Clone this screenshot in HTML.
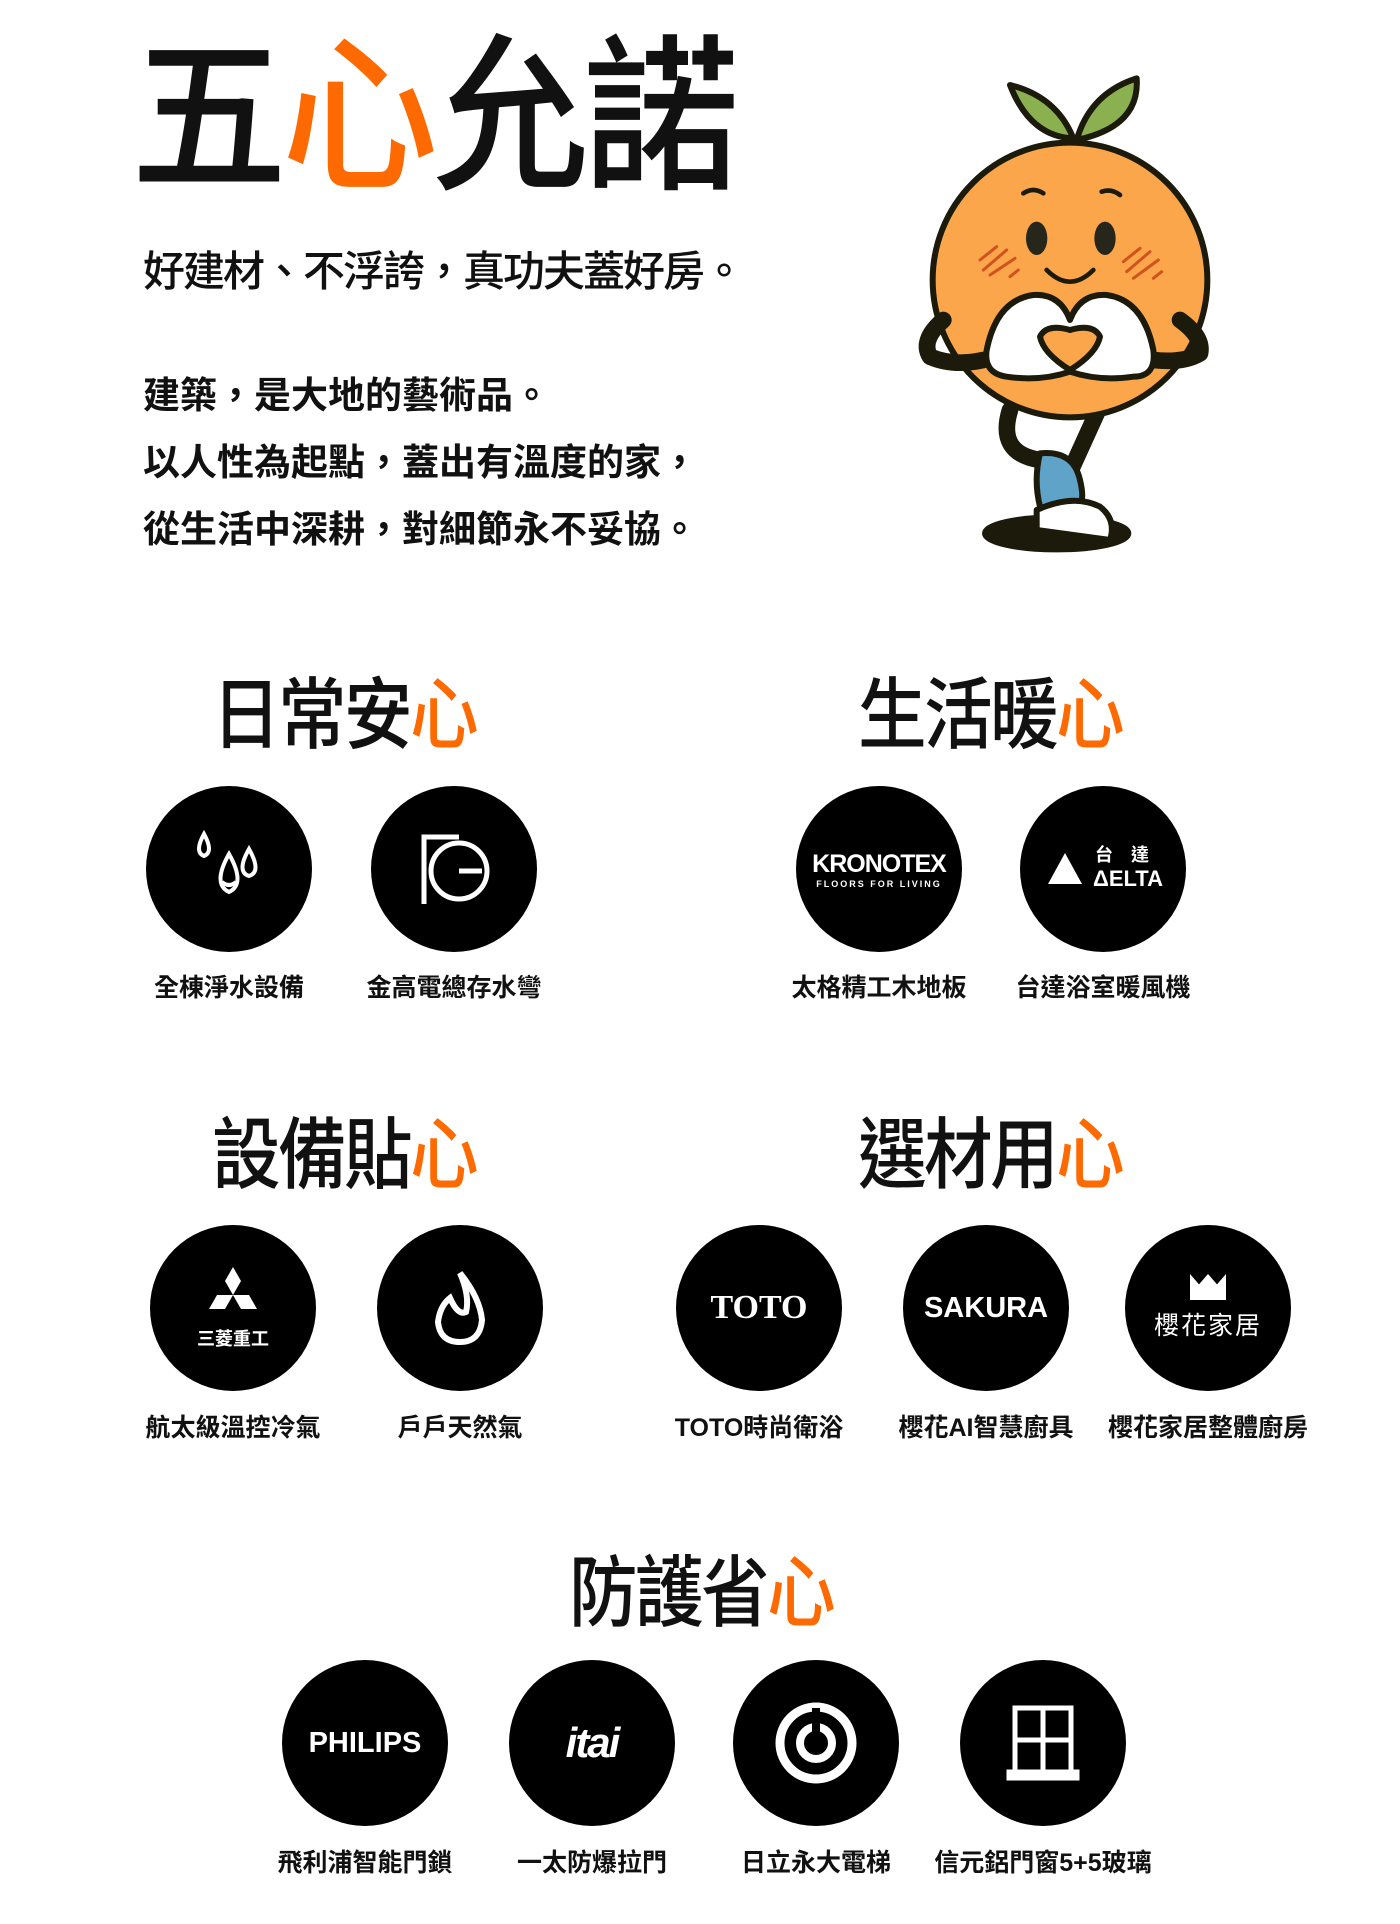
<!DOCTYPE html>
<html><head><meta charset="utf-8">
<style>
html,body{margin:0;padding:0;background:#fff;}
body{width:1400px;height:1924px;position:relative;overflow:hidden;font-family:"Liberation Sans","Noto Sans CJK TC",sans-serif;color:#111;}
.a{position:absolute;white-space:nowrap;}
.o{color:#ff6a00;}
.title{font-size:168px;font-weight:500;letter-spacing:-6px;line-height:1;transform:scaleX(0.93);transform-origin:0 0;}
.sec{font-size:78px;font-weight:500;letter-spacing:-3px;line-height:1;width:400px;text-align:center;transform:scaleX(0.88);}
.c{position:absolute;width:166px;height:166px;border-radius:50%;background:#000;color:#fff;display:flex;align-items:center;justify-content:center;}
.lb{position:absolute;width:240px;text-align:center;font-size:25px;font-weight:700;line-height:1;}
</style></head><body>

<div class="a title" style="left:131px;top:34px;">五<span class="o">心</span>允諾</div>
<div class="a" style="left:143px;top:238px;font-size:42px;font-weight:500;letter-spacing:-2px;">好建材、不浮誇，真功夫蓋好房。</div>
<div class="a" style="left:143px;top:362px;font-size:37px;font-weight:700;line-height:67px;letter-spacing:0px;">建築，是大地的藝術品。<br>以人性為起點，蓋出有溫度的家，<br>從生活中深耕，對細節永不妥協。</div>

<svg class="a" style="left:900px;top:60px;" width="340" height="510" viewBox="0 0 1020 1530">
<g stroke="#1c1a0a" stroke-width="18" stroke-linecap="round" stroke-linejoin="round">
<ellipse cx="470" cy="1420" rx="215" ry="48" fill="#1c1a0a"/>
<path d="M330 75 Q470 110 520 235 Q390 230 330 75Z" fill="#8ab04f"/>
<path d="M710 55 Q720 200 530 240 Q570 100 710 55Z" fill="#8ab04f"/>
<path d="M330 1050 Q290 1180 420 1200" fill="none" stroke-width="50"/>
<path d="M590 1060 L490 1280" fill="none" stroke-width="50"/>
<path d="M420 1180 Q520 1170 540 1260 Q560 1340 520 1360 L420 1340 Q400 1260 420 1180Z" fill="#5fa3c9"/>
<path d="M410 1350 Q520 1300 600 1340 Q650 1380 630 1440 L410 1410Z" fill="#fff"/>
<circle cx="510" cy="660" r="412" fill="#fca64c"/>
<path d="M130 780 Q60 840 90 890 Q160 920 250 900" fill="none" stroke-width="50"/>
<path d="M840 780 Q910 830 900 880 Q850 910 760 900" fill="none" stroke-width="50"/>
<path d="M260 870 Q290 720 400 705 Q480 700 510 780 Q540 700 620 705 Q730 720 760 870 Q770 950 700 950 Q600 965 510 935 Q420 965 320 950 Q250 940 260 870Z" fill="#fff"/>
<path d="M510 930 Q430 880 420 830 Q440 790 510 810 Q580 790 600 830 Q590 880 510 930Z" fill="#fca64c"/>
<path d="M370 400 Q400 380 430 400 M605 395 Q635 385 660 405" fill="none" stroke-width="14"/>
<path d="M440 630 Q510 700 580 630" fill="none" stroke-width="14"/>
</g>
<ellipse cx="410" cy="535" rx="32" ry="50" fill="#26261a"/>
<ellipse cx="615" cy="535" rx="32" ry="50" fill="#26261a"/>
<g stroke="#d0521c" stroke-width="9" stroke-linecap="round">
<path d="M240 600 L290 560 M250 630 L320 570 M270 645 L345 595 M330 650 L355 630"/>
<path d="M670 605 L720 565 M680 635 L750 575 M700 655 L775 600 M760 655 L785 635"/>
</g>
</svg>

<div class="a sec" style="left:144px;top:676px;">日常安<span class="o">心</span></div>
<div class="a sec" style="left:790px;top:676px;">生活暖<span class="o">心</span></div>
<div class="a sec" style="left:144px;top:1116px;">設備貼<span class="o">心</span></div>
<div class="a sec" style="left:790px;top:1116px;">選材用<span class="o">心</span></div>
<div class="a sec" style="left:501px;top:1554px;">防護省<span class="o">心</span></div>

<!-- row1 -->
<div class="c" style="left:146px;top:786px;"><svg width="90" height="90" viewBox="0 0 90 90" fill="none" stroke="#fff" stroke-width="4"><path d="M20 10 Q10 28 20 32 Q30 28 20 10Z"/><path d="M45 30 Q28 60 45 68 Q62 60 45 30Z"/><path d="M65 25 Q52 48 65 52 Q78 48 65 25Z"/><path d="M38 58 Q45 64 52 58"/></svg></div>
<div class="c" style="left:371px;top:786px;"><svg width="80" height="80" viewBox="0 0 80 80" fill="none" stroke="#fff" stroke-width="5"><path d="M10 75 V8 H45"/><circle cx="45" cy="42" r="28"/><path d="M45 42 H68"/></svg></div>
<div class="c" style="left:796px;top:786px;flex-direction:column;"><div style="font-size:25px;font-weight:700;letter-spacing:-1px;">KRONOTEX</div><div style="font-size:9px;letter-spacing:2px;font-weight:700;">FLOORS FOR LIVING</div></div>
<div class="c" style="left:1020px;top:786px;"><svg width="120" height="60" viewBox="0 0 120 60"><path d="M5 45 L22 14 L39 45Z" fill="#fff"/><text x="52" y="22" fill="#fff" font-size="18" font-weight="700" font-family="Noto Sans CJK TC,sans-serif">台　達</text><text x="50" y="47" fill="#fff" font-size="22" font-weight="700" font-family="Liberation Sans,sans-serif">ΔELTA</text></svg></div>
<div class="lb" style="left:109px;top:976px;">全棟淨水設備</div>
<div class="lb" style="left:334px;top:976px;">金高電總存水彎</div>
<div class="lb" style="left:759px;top:976px;">太格精工木地板</div>
<div class="lb" style="left:983px;top:976px;">台達浴室暖風機</div>

<!-- row2 -->
<div class="c" style="left:150px;top:1225px;flex-direction:column;"><svg width="70" height="60" viewBox="0 0 70 60" fill="#fff"><path d="M35 2 L43 16 L35 30 L27 16Z"/><path d="M27 30 L43 30 L35 44 L19 44Z" transform="translate(-8,0)"/><path d="M35 30 L51 30 L59 44 L43 44Z"/></svg><div style="font-size:18px;font-weight:700;">三菱重工</div></div>
<div class="c" style="left:377px;top:1225px;"><svg width="60" height="80" viewBox="0 0 60 80" fill="none" stroke="#fff" stroke-width="6"><path d="M30 5 Q50 30 52 52 Q50 74 30 74 Q10 74 8 54 Q10 38 20 30 Q28 48 36 44 Q40 28 30 5Z"/></svg></div>
<div class="c" style="left:676px;top:1225px;font-family:'Liberation Serif',serif;font-size:34px;font-weight:700;">TOTO</div>
<div class="c" style="left:903px;top:1225px;font-size:29px;font-weight:700;">SAKURA</div>
<div class="c" style="left:1125px;top:1225px;flex-direction:column;"><div style="width:36px;height:26px;background:#fff;clip-path:polygon(0 0,25% 40%,50% 0,75% 40%,100% 0,100% 100%,0 100%);"></div><div style="font-size:25px;margin-top:6px;letter-spacing:2px;">櫻花家居</div></div>
<div class="lb" style="left:113px;top:1416px;">航太級溫控冷氣</div>
<div class="lb" style="left:340px;top:1416px;">戶戶天然氣</div>
<div class="lb" style="left:639px;top:1416px;">TOTO時尚衛浴</div>
<div class="lb" style="left:866px;top:1416px;">櫻花AI智慧廚具</div>
<div class="lb" style="left:1088px;top:1416px;">櫻花家居整體廚房</div>

<!-- row3 -->
<div class="c" style="left:282px;top:1660px;font-size:29px;font-weight:700;">PHILIPS</div>
<div class="c" style="left:509px;top:1660px;font-size:42px;font-weight:700;font-style:italic;letter-spacing:-2px;">itai</div>
<div class="c" style="left:733px;top:1660px;"><svg width="90" height="90" viewBox="0 0 90 90" fill="none" stroke="#fff"><circle cx="45" cy="45" r="36" stroke-width="9"/><circle cx="45" cy="45" r="16" stroke-width="8"/><path d="M45 10 V40" stroke="#000" stroke-width="8"/></svg></div>
<div class="c" style="left:960px;top:1660px;"><svg width="80" height="80" viewBox="0 0 80 80" fill="none" stroke="#fff" stroke-width="5"><rect x="12" y="5" width="56" height="64"/><path d="M40 5 V69 M12 37 H68"/><rect x="6" y="69" width="68" height="6" fill="#fff"/></svg></div>
<div class="lb" style="left:245px;top:1851px;">飛利浦智能門鎖</div>
<div class="lb" style="left:472px;top:1851px;">一太防爆拉門</div>
<div class="lb" style="left:696px;top:1851px;">日立永大電梯</div>
<div class="lb" style="left:923px;top:1851px;">信元鋁門窗5+5玻璃</div>

</body></html>
